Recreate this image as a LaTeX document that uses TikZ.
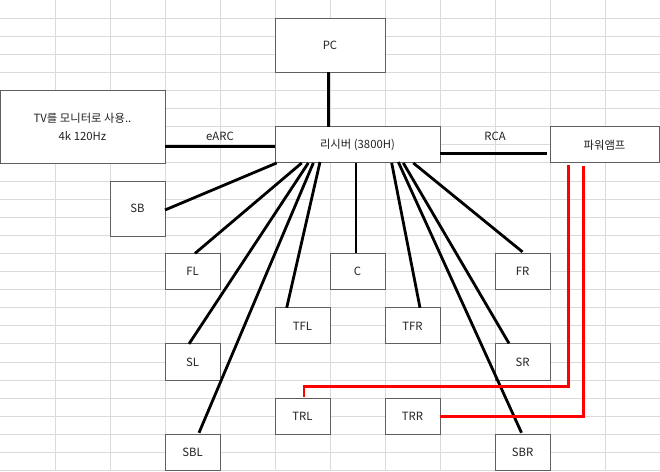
\documentclass[tikz,border=0pt]{standalone}
\usepackage{fontspec}
\setmainfont{Noto Sans CJK KR}
\usetikzlibrary{calc}
\definecolor{gridc}{HTML}{DADADA}
\definecolor{boxc}{HTML}{5F5F5F}
\definecolor{txtc}{HTML}{222222}
\definecolor{redc}{HTML}{FF0000}
\begin{document}
\begin{tikzpicture}[x=0.75pt,y=-0.75pt,
  box/.style={draw=boxc, line width=0.75pt, fill=white, inner sep=0pt, outer sep=0pt, text=txtc, font=\fontsize{8.5}{13.7}\selectfont, align=center},
  cell/.style={box, minimum width=41.25pt, minimum height=27.15pt},
  wire/.style={line width=2.1pt, black},
  redwire/.style={line width=2.1pt, redc},
  lbl/.style={text=txtc, font=\fontsize{8.5}{10}\selectfont, inner sep=0pt}]
\useasboundingbox (0,0) rectangle (660,471);
\fill[white] (0,0) rectangle (660,471);
% spreadsheet grid
\foreach \i in {1,...,12} \draw[gridc, line width=0.75pt] (55*\i,0) -- (55*\i,471);
\foreach \j in {1,...,26} \draw[gridc, line width=0.75pt] (0,18.1*\j) -- (660,18.1*\j);
% boxes
\node[box, minimum width=82.5pt, minimum height=40.7pt] (PC) at (330,45.25) {PC};
\node[box, minimum width=123.75pt, minimum height=54.4pt] (TV) at (82.5,126.75) {TV를 모니터로 사용..\\4k 120Hz};
\node[box, minimum width=123.75pt, minimum height=27.2pt] (rcv) at (357.5,144.85) {리시버 (3800H)};
\node[box, minimum width=81.75pt, minimum height=27.2pt] (amp) at (604.5,144.85) {파워앰프};
\node[box, minimum width=41.25pt, minimum height=41.25pt] (SB) at (137.5,208.5) {SB};
\node[cell] (FL) at (192.5,271.5) {FL};
\node[cell] (C) at (357.5,271.5) {C};
\node[cell] (FR) at (522.5,271.5) {FR};
\node[cell] (TFL) at (302.5,325.85) {TFL};
\node[cell] (TFR) at (412.5,325.85) {TFR};
\node[cell] (SL) at (192.5,362) {SL};
\node[cell] (SR) at (522.5,362) {SR};
\node[cell] (TRL) at (302.5,416.3) {TRL};
\node[cell] (TRR) at (412.5,416.3) {TRR};
\node[cell, minimum height=26.8pt] (SBL) at (192.5,452.15) {SBL};
\node[cell, minimum height=26.8pt] (SBR) at (522.5,452.15) {SBR};
% labels
\node[lbl] (earc) at (220,136) {eARC};
\node[lbl] (rca) at (495,136) {RCA};
% PC - receiver
\draw[wire] ($(PC.south)+(-1.5,0)$) coordinate (p1) -- (p1 |- rcv.north);
% TV - receiver (eARC)
\draw[wire] ($(TV.south east)+(0,-16.4)$) coordinate (e1) -- (e1 -| rcv.west);
% receiver - amp (RCA)
\draw[wire] ($(rcv.south east)+(0,-9.8)$) coordinate (r1) -- ($(r1 -| amp.west)+(-3,0)$);
% receiver - speakers
\draw[wire] ($(rcv.south west)+(1.7,0)$) -- ($(SB.east)+(0,1.5)$);
\draw[wire] ($(rcv.south west)+(26.7,0)$) -- ($(FL.north)+(2.5,0)$);
\draw[wire] ($(rcv.south west)+(33.3,0)$) -- ($(SL.north)+(-3.5,0)$);
\draw[wire] ($(rcv.south west)+(38.3,0)$) -- ($(SBL.north)+(6.5,-1.5)$);
\draw[wire] ($(rcv.south west)+(45,-1)$) -- ($(TFL.north)+(-15.8,0)$);
\draw[wire] ($(C.north)+(-1.5,0)$) coordinate (c1) -- (c1 |- rcv.south);
\draw[wire] ($(rcv.south west)+(116.7,0)$) -- ($(TFR.north)+(7.5,0)$);
\draw[wire] ($(rcv.south west)+(123.3,-1)$) -- ($(SBR.north)+(-1,-1.5)$);
\draw[wire] ($(rcv.south west)+(128.3,0)$) -- ($(SR.north)+(-13.5,-0.5)$);
\draw[wire] ($(rcv.south west)+(138.3,0)$) -- ($(FR.north)+(0,-1.5)$);
% amp - rear top speakers
\draw[redwire] ($(amp.south west)+(18.3,2)$) |- ($(TRL.north)+(1.5,-11.6)$) -- ($(TRL.north)+(1.5,-1.5)$);
\draw[redwire] ($(amp.south west)+(33.3,3)$) |- (TRR.east);
\end{tikzpicture}
\end{document}
